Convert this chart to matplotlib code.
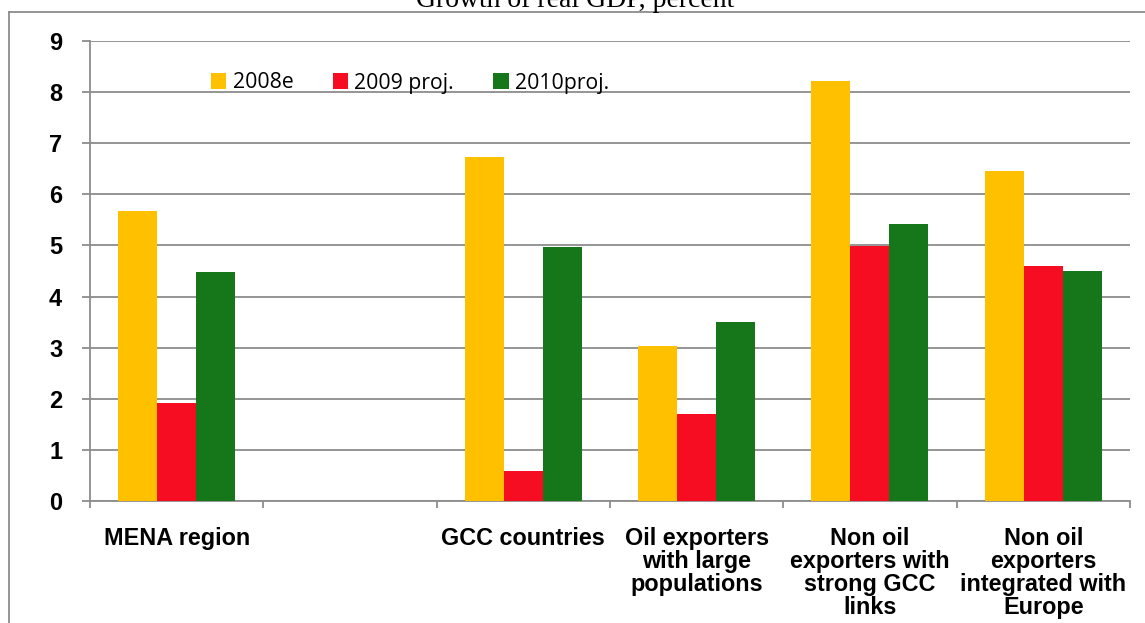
import matplotlib.pyplot as plt
import numpy as np
from matplotlib.patches import Patch
from matplotlib.lines import Line2D

categories = ["MENA region", "", "GCC countries", "Oil exporters\nwith large\npopulations",
              "Non oil\nexporters with\nstrong GCC\nlinks", "Non oil\nexporters\nintegrated with\nEurope"]
series_names = ["2008e", "2009 proj.", "2010proj."]
v2008 = [5.67, np.nan, 6.73, 3.03, 8.21, 6.46]
v2009 = [1.92, np.nan, 0.59, 1.70, 4.99, 4.60]
v2010 = [4.48, np.nan, 4.97, 3.50, 5.42, 4.50]
colors = ["#FFC000", "#F70D22", "#16761A"]
yticks = list(range(0, 10))
title = "Growth of real GDP, percent"

fig = plt.figure(figsize=(11.45, 6.23), dpi=100)
ax = fig.add_axes([90/1145, 1-501/623, 1040/1145, 460/623])

x = np.arange(len(categories))
bw = 0.225
for i, (vals, c, n) in enumerate(zip([v2008, v2009, v2010], colors, series_names)):
    ax.bar(x + (i-1)*bw, vals, width=bw, color=c, label=n, zorder=3, linewidth=0)

ax.set_xlim(-0.5, len(categories)-0.5)
ax.set_ylim(0, 9)
ax.set_yticks(yticks)
ax.set_yticklabels([str(t) for t in yticks], fontsize=17, fontweight='bold', family='Liberation Sans')
ax.yaxis.grid(True, color='#8c8c8c', linewidth=1.3, zorder=0)
ax.tick_params(axis='y', length=6, width=1.3, color='#8c8c8c', pad=14)

ax.set_xticks(np.arange(len(categories)+1) - 0.5)
ax.set_xticklabels([])
ax.tick_params(axis='x', which='major', length=5, width=1.3, color='#8c8c8c', direction='out')
ax.set_xticks(x, minor=True)
ax.set_xticklabels(categories, minor=True, fontsize=16.8, fontweight='bold', family='Liberation Sans',
                   va='top', ha='center', linespacing=1.0)
ax.tick_params(axis='x', which='minor', length=0, pad=19)

for s in ['top', 'right']:
    ax.spines[s].set_visible(False)
for s in ['left', 'bottom']:
    ax.spines[s].set_color('#8c8c8c')
    ax.spines[s].set_linewidth(1.3)

handles = [Patch(facecolor=c, edgecolor='none') for c in colors]
leg = ax.legend(handles, series_names, ncol=3, frameon=False, loc='center left',
                bbox_to_anchor=(121/1040, 1-(83-41)/460),
                prop={'family': 'Open Sans', 'size': 15.3},
                handlelength=0.72, handleheight=0.72, handletextpad=0.3,
                columnspacing=1.85, borderaxespad=0, borderpad=0)

# outer chart border
fig.add_artist(Line2D([9/1145, 1], [1-12/623, 1-12/623], color='#8c8c8c', linewidth=1.3))
fig.add_artist(Line2D([9/1145, 9/1145], [0, 1-12/623], color='#8c8c8c', linewidth=1.3))

fig.text(575/1145, 1-7/623, title, ha='center', va='baseline', fontsize=20,
         family='Liberation Serif')

fig.savefig('out.png', dpi=100)
